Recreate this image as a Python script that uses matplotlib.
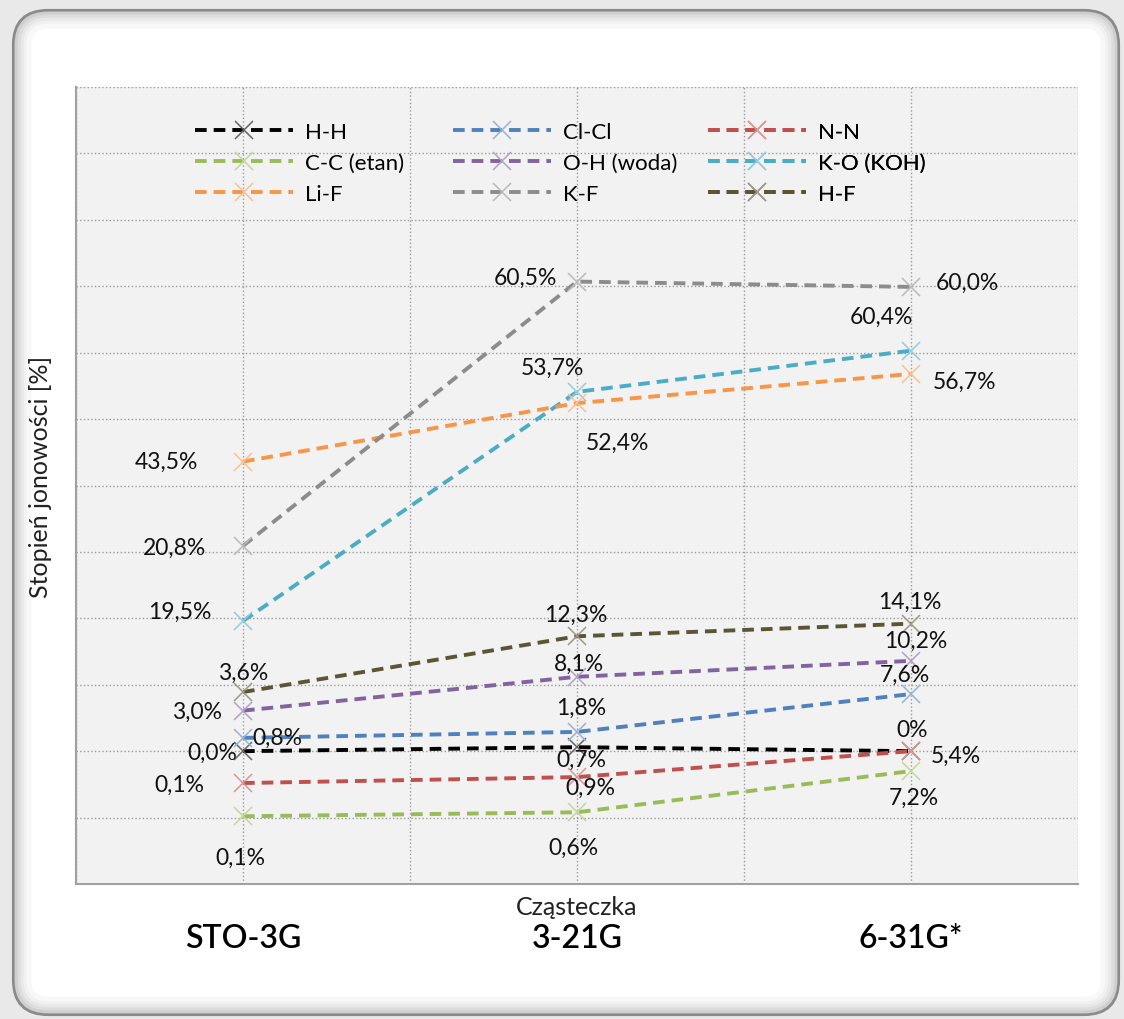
import numpy as np
import matplotlib.pyplot as plt
from matplotlib.patches import FancyBboxPatch
from matplotlib.colors import to_rgb

plt.rcParams['font.family'] = ['Lato', 'DejaVu Sans']

# basis sets on the x axis (every second grid cell)
basis = ['STO-3G', '3-21G', '6-31G*']
basis_x = [1, 3, 5]

series = ['H-H', 'Cl-Cl', 'N-N', 'C-C (etan)', 'O-H (woda)', 'K-O (KOH)',
          'Li-F', 'K-F', 'H-F']

# plotted heights, in grid units as drawn (the y axis has no scale)
hh = [2.00, 2.06, 2.00]
clcl = [2.20, 2.29, 2.86]
nn = [1.52, 1.61, 2.00]
cc = [1.02, 1.08, 1.70]
oh = [2.61, 3.12, 3.36]
ko = [3.96, 7.41, 8.03]
lif = [6.36, 7.24, 7.68]
kf = [5.09, 9.07, 8.99]
hf = [2.89, 3.73, 3.92]

# data label texts as printed on the chart
hh_lab = ['0,0%', '0,7%', '0%']
clcl_lab = ['0,8%', '1,8%', '7,6%']
nn_lab = ['0,1%', '0,9%', '5,4%']
cc_lab = ['0,1%', '0,6%', '7,2%']
oh_lab = ['3,0%', '8,1%', '10,2%']
ko_lab = ['19,5%', '53,7%', '60,4%']
lif_lab = ['43,5%', '52,4%', '56,7%']
kf_lab = ['20,8%', '60,5%', '60,0%']
hf_lab = ['3,6%', '12,3%', '14,1%']

values = [hh, clcl, nn, cc, oh, ko, lif, kf, hf]
labels = [hh_lab, clcl_lab, nn_lab, cc_lab, oh_lab, ko_lab, lif_lab, kf_lab, hf_lab]

colors = ['#000000', '#4f81bd', '#c0504d', '#9bbb59', '#8064a2',
          '#4bacc6', '#f79646', '#8c8c8c', '#5a5535']

# label offsets from the point, in pixels
offsets = [
    [(-31, -1), (4, -12), (1, 22)],
    [(34, 1), (4, 25), (-6, 20)],
    [(-64, -1), (13, -10), (45, -4)],
    [(-3, -41), (-4, -35), (3, -26)],
    [(-46, -1), (2, 13), (5, 20)],
    [(-63, 10), (-25, 25), (-30, 34)],
    [(-77, 0), (40, -39), (54, -7)],
    [(-68, -1), (-52, 4), (56, 5)],
    [(0, 20), (-1, 22), (-1, 22)],
]


def lighten(c, f=0.4):
    r = np.array(to_rgb(c))
    return tuple(r + (1 - r) * f)


W, H = 1124, 1020
fig = plt.figure(figsize=(W / 100, H / 100), dpi=100, facecolor='#e9e9e9')

# rounded frame around the chart
bg = fig.add_axes([0, 0, 1, 1])
bg.set_xlim(0, W)
bg.set_ylim(H, 0)
bg.axis('off')
bg.add_patch(FancyBboxPatch((14, 12), 1104, 1003, boxstyle='round,pad=0,rounding_size=34',
                            fc='white', ec='#8a8a8a', lw=3))
for i, g in enumerate(['#cfcfcf', '#dddddd', '#e8e8e8', '#f1f1f1', '#f8f8f8']):
    d = 3 + i * 3
    bg.add_patch(FancyBboxPatch((14 + d, 12 + d), 1104 - 2 * d, 1003 - 2 * d,
                                boxstyle='round,pad=0,rounding_size=%d' % (34 - d),
                                fc='none', ec=g, lw=3.5))

ax = fig.add_axes([76 / W, 135 / H, 1002 / W, 797 / H])
ax.set_facecolor('#f2f2f2')
ax.set_xlim(0, 6)
ax.set_ylim(0, 12)
ax.set_xticks(basis_x, basis)
ax.set_xticks(range(7), minor=True)
ax.set_yticks(range(13))
ax.grid(which='both', axis='x', ls=':', color='#9a9a9a', lw=1)
ax.grid(which='major', axis='y', ls=':', color='#9a9a9a', lw=1)
ax.tick_params(which='both', length=0)
ax.tick_params(axis='x', labelsize=23, pad=28)
for t in ax.get_xticklabels():
    t.set_fontweight('semibold')
ax.tick_params(axis='y', labelleft=False)
for s in ['top', 'right']:
    ax.spines[s].set_visible(False)
for s in ['left', 'bottom']:
    ax.spines[s].set_color('#a0a0a0')
    ax.spines[s].set_linewidth(1.5)

handles = []
for name, vals, col in zip(series, values, colors):
    ln, = ax.plot(basis_x, vals, color=col, lw=2.8, dashes=(3, 1.8),
                  marker='x', ms=13, mew=1.1, mec=lighten(col), label=name)
    handles.append(ln)

for vals, labs, offs in zip(values, labels, offsets):
    for x, y, t, o in zip(basis_x, vals, labs, offs):
        ax.annotate(t, (x, y), xytext=o, textcoords='offset pixels',
                    ha='center', va='center', fontsize=16.5, color='#111111', zorder=5)

ax.set_xlabel('Cząsteczka', fontsize=18, color='#222222')
ax.xaxis.set_label_coords(0.5, -0.014)
ax.set_ylabel('Stopień jonowości [%]', fontsize=18, color='#222222')
ax.yaxis.set_label_coords(-0.024, 0.512)

# legend: three equal columns like the original
cols = [[0, 3, 6], [1, 4, 7], [2, 5, 8]]
col_x = [195, 453, 708]
for idx, cx in zip(cols, col_x):
    leg = ax.legend([handles[i] for i in idx], [series[i] for i in idx],
                    loc='center left', bbox_to_anchor=(cx / W, 1 - 164 / H),
                    bbox_transform=fig.transFigure, frameon=False, fontsize=16,
                    handlelength=4.4, handletextpad=0.55, labelspacing=0.5,
                    borderpad=0, borderaxespad=0)
    ax.add_artist(leg)

fig.savefig('out.png', dpi=100, facecolor=fig.get_facecolor())
